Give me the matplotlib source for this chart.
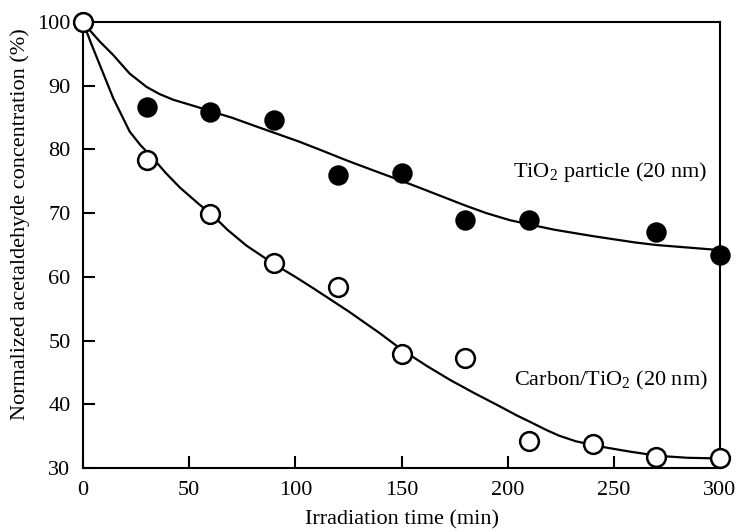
import numpy as np
import matplotlib
matplotlib.use('Agg')
import matplotlib.pyplot as plt

# measured points
t_pts = [0, 30, 60, 90, 120, 150, 180, 210, 270, 300]
tio2_pts = [100, 86.7, 85.8, 84.7, 76.0, 76.3, 69.0, 69.0, 67.1, 63.4]

t_c_pts = [0, 30, 60, 90, 120, 150, 180, 210, 240, 270, 300]
carbon_pts = [100, 78.3, 69.8, 62.2, 58.4, 47.9, 47.3, 34.2, 33.7, 31.8, 31.5]

# fitted curves
t_fit = [0, 4, 8, 14.3, 22, 30, 36, 42.5, 53.5, 60, 70, 80, 91, 102, 112, 124,
         136, 149, 160, 170, 180, 190, 201, 212, 222, 231, 240, 250, 260, 270, 285, 300]
tio2_fit = [100, 98.4, 96.9, 94.8, 91.9, 89.8, 88.7, 87.8, 86.7, 86.0, 85.0, 83.8, 82.5,
            81.2, 79.9, 78.3, 76.8, 75.2, 73.8, 72.5, 71.2, 70.0, 68.9, 68.1, 67.4, 66.9,
            66.4, 65.9, 65.4, 65.0, 64.6, 64.2]

t_c_fit = [0, 4, 8, 14.3, 22, 27, 33, 39, 45.7, 55, 60, 68, 77, 90, 100, 108.5, 125,
           140, 150, 162, 173, 184, 195, 204, 212, 218, 224, 232, 243, 257, 271, 285, 300]
carbon_fit = [100, 96.5, 93.2, 88.0, 82.8, 80.7, 78.6, 76.3, 74.0, 71.3, 70.0, 67.4,
              64.9, 62.0, 60.0, 58.2, 54.6, 51.1, 48.6, 46.0, 43.8, 41.8, 39.9, 38.3,
              37.0, 36.0, 35.1, 34.2, 33.4, 32.6, 31.9, 31.6, 31.5]

plt.rcParams['font.family'] = 'Liberation Serif'
plt.rcParams['mathtext.fontset'] = 'custom'
plt.rcParams['mathtext.rm'] = 'Liberation Serif'
plt.rcParams['font.size'] = 16

fig = plt.figure(figsize=(7.37, 5.32), dpi=100)
ax = fig.add_axes([0.1126, 0.1203, 0.8644, 0.8383])

ax.plot(t_fit, tio2_fit, color='k', lw=1.6, zorder=2)
ax.plot(t_c_fit, carbon_fit, color='k', lw=1.6, zorder=2)
ax.plot(t_pts, tio2_pts, 'o', color='k', ms=13.5, mec='k', mew=1.2, zorder=3, clip_on=False)
ax.plot(t_c_pts, carbon_pts, 'o', color='k', mfc='white', ms=13.5, mew=1.8, zorder=4, clip_on=False)

ax.set_xlim(0, 300)
ax.set_ylim(30, 100)
ax.set_xticks([0, 50, 100, 150, 200, 250, 300])
ax.set_yticks([30, 40, 50, 60, 70, 80, 90, 100])
ax.tick_params(direction='in', length=8.5, width=1.5, top=False, right=False, labelsize=16)
ax.tick_params(axis='x', pad=9)
ax.tick_params(axis='y', pad=9)
for s in ax.spines.values():
    s.set_linewidth(1.5)

ax.text(294, 75.7, r'TiO$_\mathrm{2}$ particle (20 nm)', ha='right', va='baseline', fontsize=16)
ax.text(294.4, 42.9, r'Carbon/TiO$_\mathrm{2}$ (20 nm)', ha='right', va='baseline', fontsize=16)

ax.set_xlabel('Irradiation time (min)', fontsize=16, labelpad=8)
ax.set_ylabel('Normalized acetaldehyde concentration (%)', fontsize=16)
ax.yaxis.set_label_coords(-0.083, 0.547)

fig.savefig('out.png', dpi=100)
